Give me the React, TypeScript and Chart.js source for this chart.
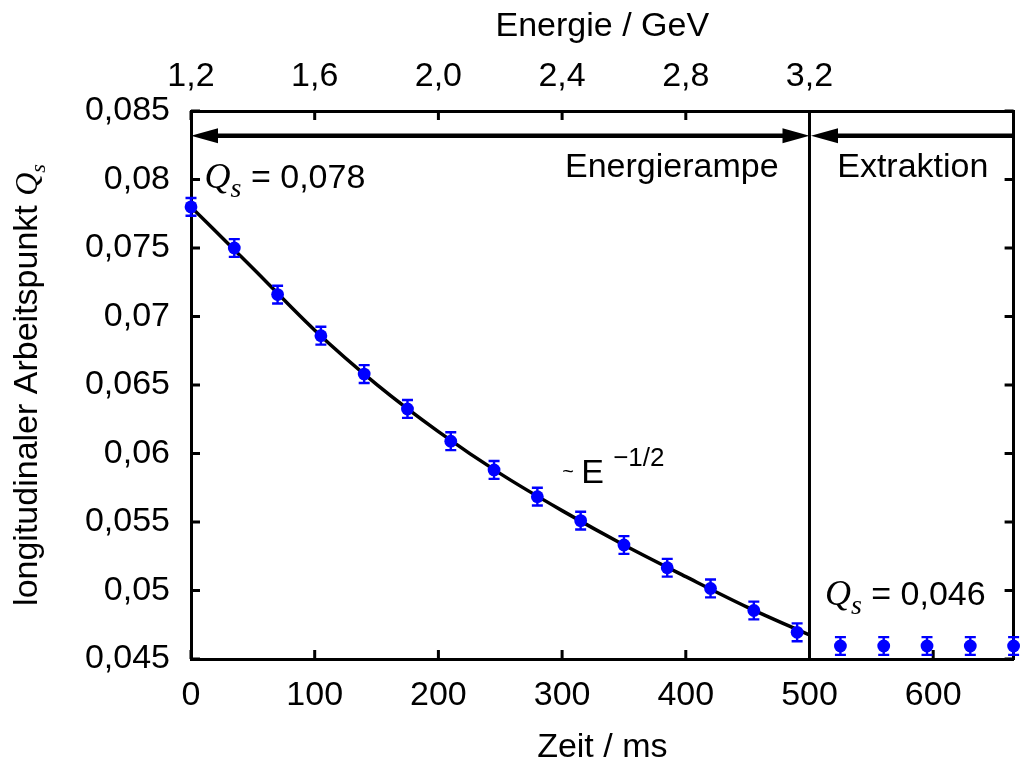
import React, { useEffect, useRef } from "react";
import { Chart, registerables } from "chart.js";

Chart.register(...registerables);

// Measured longitudinal tune Q_s versus time (ms)
const TIME_MS = [0, 35, 70, 105, 140, 175, 210, 245, 280, 315, 350, 385, 420, 455, 490, 525, 560, 595, 630, 665];
const QS_MEASURED = [
  0.078, 0.075, 0.0716, 0.0686, 0.0658, 0.06325, 0.0609, 0.0588, 0.05685, 0.0551,
  0.05332, 0.05166, 0.05015, 0.04854, 0.04695, 0.04595, 0.04595, 0.04595, 0.04595, 0.04595,
];
const QS_ERROR = [
  0.00065, 0.00065, 0.00065, 0.00065, 0.00065, 0.00065, 0.00065, 0.00065, 0.00065, 0.00065,
  0.00065, 0.00065, 0.00065, 0.00065, 0.00065, 0.00065, 0.00065, 0.00065, 0.00065, 0.00065,
];

// Fit curve (~ E^-1/2)
const FIT_TIME_MS = [0, 50, 100, 150, 200, 250, 300, 350, 400, 450, 500];
const FIT_QS = [0.078, 0.07353, 0.069, 0.06505, 0.0616, 0.05853, 0.05583, 0.05332, 0.05101, 0.04877, 0.04675];

// Axes
const TIME_TICKS = [0, 100, 200, 300, 400, 500, 600];
const ENERGY_TICKS = [1.2, 1.6, 2.0, 2.4, 2.8, 3.2];
const QS_TICKS = [0.045, 0.05, 0.055, 0.06, 0.065, 0.07, 0.075, 0.08, 0.085];
const TIME_MIN = 0;
const TIME_MAX = 665;
const QS_MIN = 0.045;
const QS_MAX = 0.085;
const RAMP_END_MS = 500;
const ENERGY_START = 1.2;
const ENERGY_RAMP_END = 3.2;

const SANS = "'Liberation Sans', Arial, Helvetica, sans-serif";
const SERIF = "'Liberation Serif', 'Times New Roman', serif";
const FS = 34;

function drawQs(ctx: CanvasRenderingContext2D, x: number, base: number, qSize: number, sSize: number, sDrop: number, rest: string, restSize: number) {
  ctx.textAlign = "left";
  ctx.textBaseline = "alphabetic";
  ctx.font = `italic ${qSize}px ${SERIF}`;
  ctx.fillText("Q", x, base);
  x += ctx.measureText("Q").width;
  ctx.font = `italic ${sSize}px ${SERIF}`;
  ctx.fillText("s", x, base + sDrop);
  x += ctx.measureText("s").width;
  if (rest) {
    ctx.font = `${restSize}px ${SANS}`;
    ctx.fillText(rest, x, base);
  }
}

function arrowHead(ctx: CanvasRenderingContext2D, tipX: number, y: number, dir: number) {
  const len = 27;
  const hw = 7.5;
  ctx.beginPath();
  ctx.moveTo(tipX, y);
  ctx.lineTo(tipX - dir * len, y - hw);
  ctx.lineTo(tipX - dir * len, y + hw);
  ctx.closePath();
  ctx.fill();
}

const inwardTicks = {
  id: "inwardTicks",
  beforeDatasetsDraw(chart: any) {
    const { ctx, chartArea, scales } = chart;
    const L = 9;
    ctx.save();
    ctx.strokeStyle = "#000";
    ctx.lineWidth = 3;
    ctx.beginPath();
    for (const t of scales.x.ticks) {
      const px = scales.x.getPixelForValue(t.value);
      ctx.moveTo(px, chartArea.bottom);
      ctx.lineTo(px, chartArea.bottom - L);
    }
    for (const t of scales.x2.ticks) {
      const px = scales.x2.getPixelForValue(t.value);
      ctx.moveTo(px, chartArea.top);
      ctx.lineTo(px, chartArea.top + L);
    }
    for (const t of scales.y.ticks) {
      const py = scales.y.getPixelForValue(t.value);
      ctx.moveTo(chartArea.left, py);
      ctx.lineTo(chartArea.left + L, py);
    }
    for (const t of scales.y2.ticks) {
      const py = scales.y2.getPixelForValue(t.value);
      ctx.moveTo(chartArea.right, py);
      ctx.lineTo(chartArea.right - L, py);
    }
    ctx.stroke();
    ctx.restore();
  },
};

const errorBars = {
  id: "errorBars",
  afterDatasetsDraw(chart: any) {
    const { ctx, scales } = chart;
    const xs = scales.x;
    const ys = scales.y;
    ctx.save();
    ctx.strokeStyle = "#0000ff";
    ctx.lineWidth = 2.4;
    const cap = 5.5;
    ctx.beginPath();
    TIME_MS.forEach((t, i) => {
      const px = xs.getPixelForValue(t);
      const top = ys.getPixelForValue(QS_MEASURED[i] + QS_ERROR[i]);
      const bot = ys.getPixelForValue(QS_MEASURED[i] - QS_ERROR[i]);
      ctx.moveTo(px, top);
      ctx.lineTo(px, bot);
      ctx.moveTo(px - cap, top);
      ctx.lineTo(px + cap, top);
      ctx.moveTo(px - cap, bot);
      ctx.lineTo(px + cap, bot);
    });
    ctx.stroke();
    ctx.restore();
  },
};

const annotations = {
  id: "annotations",
  afterDraw(chart: any) {
    const { ctx, chartArea, scales } = chart;
    const xs = scales.x;
    const ys = scales.y;
    ctx.save();
    ctx.fillStyle = "#000";
    ctx.strokeStyle = "#000";

    // vertical separator at end of ramp
    const xr = xs.getPixelForValue(RAMP_END_MS);
    ctx.lineWidth = 3;
    ctx.beginPath();
    ctx.moveTo(xr, chartArea.top);
    ctx.lineTo(xr, chartArea.bottom);
    ctx.stroke();

    // arrows
    const ya = ys.getPixelForValue(0.0832);
    const x0 = xs.getPixelForValue(TIME_MIN);
    ctx.lineWidth = 4.5;
    ctx.beginPath();
    ctx.moveTo(x0 + 20, ya);
    ctx.lineTo(xr - 20, ya);
    ctx.moveTo(xr + 20, ya);
    ctx.lineTo(chartArea.right, ya);
    ctx.stroke();
    arrowHead(ctx, x0, ya, -1);
    arrowHead(ctx, xr, ya, 1);
    arrowHead(ctx, xr + 1.5, ya, -1);

    // region labels
    const yl = ys.getPixelForValue(0.0802);
    ctx.font = `${FS}px ${SANS}`;
    ctx.textBaseline = "alphabetic";
    ctx.textAlign = "right";
    ctx.fillText("Energierampe", xs.getPixelForValue(475), yl);
    ctx.textAlign = "center";
    ctx.fillText("Extraktion", xs.getPixelForValue(583.5), yl);

    // Q_s annotations
    drawQs(ctx, xs.getPixelForValue(11), ys.getPixelForValue(0.07938), 36, 28, 9, " = 0,078", FS);
    drawQs(ctx, xs.getPixelForValue(512.5), ys.getPixelForValue(0.04895), 36, 28, 9, " = 0,046", FS);

    // ~ E^-1/2
    const ex = xs.getPixelForValue(317);
    const eb = ys.getPixelForValue(0.05785);
    ctx.textAlign = "left";
    ctx.font = `20px ${SANS}`;
    ctx.fillText("~", ex - 21, eb - 5);
    ctx.font = `${FS}px ${SANS}`;
    ctx.fillText("E", ex - 2, eb);
    ctx.font = `26px ${SANS}`;
    ctx.fillText("\u22121/2", ex + 30, eb - 17);

    // axis titles
    const cx = (chartArea.left + chartArea.right) / 2;
    ctx.font = `${FS}px ${SANS}`;
    ctx.textAlign = "center";
    ctx.fillText("Zeit / ms", cx, chart.height - 5);
    ctx.fillText("Energie / GeV", cx, 36);

    // y title (rotated)
    const cy = (chartArea.top + chartArea.bottom) / 2;
    ctx.translate(37, cy);
    ctx.rotate(-Math.PI / 2);
    const part = "longitudinaler Arbeitspunkt ";
    ctx.font = `${FS}px ${SANS}`;
    const w1 = ctx.measureText(part).width;
    ctx.font = `italic 32px ${SERIF}`;
    const wq = ctx.measureText("Q").width;
    ctx.font = `italic 22px ${SERIF}`;
    const wsub = ctx.measureText("s").width;
    const start = -(w1 + wq + wsub) / 2;
    ctx.font = `${FS}px ${SANS}`;
    ctx.textAlign = "left";
    ctx.fillText(part, start, 0);
    drawQs(ctx, start + w1, 0, 32, 22, 8, "", FS);

    ctx.restore();
  },
};

const tickFont = { family: SANS, size: FS };

export default function App() {
  const ref = useRef<HTMLCanvasElement>(null);

  useEffect(() => {
    const canvas = ref.current;
    if (!canvas) return;
    const energyMax = ENERGY_START + (TIME_MAX * (ENERGY_RAMP_END - ENERGY_START)) / RAMP_END_MS;
    const gridOff = { display: true, drawOnChartArea: false, drawTicks: false, tickLength: 0 };
    const border = { display: true, color: "#000", width: 3 };
    const qsLabel = (v: any) => parseFloat(Number(v).toFixed(4)).toString().replace(".", ",");

    const chart = new Chart(canvas, {
      type: "line",
      data: {
        datasets: [
          {
            label: "Messung",
            data: TIME_MS.map((t, i) => ({ x: t, y: QS_MEASURED[i] })),
            showLine: false,
            pointRadius: 6.4,
            pointHoverRadius: 6.4,
            pointBackgroundColor: "#0000ff",
            pointBorderColor: "#0000ff",
            pointBorderWidth: 0,
            clip: false as any,
            xAxisID: "x",
            yAxisID: "y",
          },
          {
            label: "Fit",
            data: FIT_TIME_MS.map((t, i) => ({ x: t, y: FIT_QS[i] })),
            borderColor: "#000",
            borderWidth: 3.5,
            pointRadius: 0,
            cubicInterpolationMode: "monotone",
            fill: false,
            xAxisID: "x",
            yAxisID: "y",
          },
        ],
      },
      options: {
        responsive: false,
        animation: false,
        events: [],
        layout: { padding: 0 },
        plugins: { legend: { display: false }, tooltip: { enabled: false } },
        scales: {
          x: {
            type: "linear",
            position: "bottom",
            min: TIME_MIN,
            max: TIME_MAX,
            grid: gridOff,
            border,
            ticks: {
              color: "#000",
              font: tickFont,
              padding: 16,
              maxRotation: 0,
              autoSkip: false,
              includeBounds: false,
              callback: (v: any) => String(v),
            },
            afterBuildTicks: (s: any) => {
              s.ticks = TIME_TICKS.map((v) => ({ value: v }));
            },
            afterFit: (s: any) => {
              s.height = 103;
            },
          },
          x2: {
            type: "linear",
            position: "top",
            min: ENERGY_START,
            max: energyMax,
            grid: gridOff,
            border,
            ticks: {
              color: "#000",
              font: tickFont,
              padding: 14,
              maxRotation: 0,
              autoSkip: false,
              includeBounds: false,
              callback: (v: any) => Number(v).toFixed(1).replace(".", ","),
            },
            afterBuildTicks: (s: any) => {
              s.ticks = ENERGY_TICKS.map((v) => ({ value: v }));
            },
            afterFit: (s: any) => {
              s.height = 111;
            },
          },
          y: {
            type: "linear",
            position: "left",
            min: QS_MIN,
            max: QS_MAX,
            grid: gridOff,
            border,
            ticks: {
              color: "#000",
              font: tickFont,
              padding: 21,
              autoSkip: false,
              includeBounds: false,
              callback: qsLabel,
            },
            afterBuildTicks: (s: any) => {
              s.ticks = QS_TICKS.map((v) => ({ value: v }));
            },
            afterFit: (s: any) => {
              s.width = 191;
            },
          },
          y2: {
            type: "linear",
            position: "right",
            min: QS_MIN,
            max: QS_MAX,
            grid: gridOff,
            border,
            ticks: { display: false },
            afterBuildTicks: (s: any) => {
              s.ticks = QS_TICKS.map((v) => ({ value: v }));
            },
            afterFit: (s: any) => {
              s.width = 5;
            },
          },
        },
      } as any,
      plugins: [inwardTicks, errorBars, annotations],
    });
    return () => chart.destroy();
  }, []);

  return (
    <div style={{ position: "fixed", left: 0, top: 0, width: 1020, height: 762, background: "#fff" }}>
      <canvas ref={ref} width={1020} height={762} style={{ display: "block" }} />
    </div>
  );
}
